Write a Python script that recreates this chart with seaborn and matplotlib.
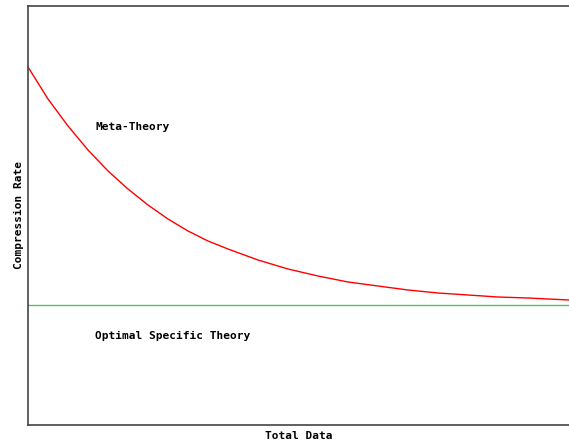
import numpy as np
import pandas as pd
import seaborn as sns
import matplotlib.pyplot as plt

# Values (arbitrary units)
total_data = [0, 20, 40, 60, 80, 100, 120, 140, 160, 180, 200, 230, 260,
              290, 320, 350, 380, 410, 440, 470, 500, 541]
meta_theory = [358, 326, 299, 275, 254, 236, 220, 206, 194, 184, 176, 165,
               156, 149, 143, 139, 135, 132, 130, 128, 127, 125]
optimal_rate = 120.5

df = pd.DataFrame({"Total Data": total_data, "Compression Rate": meta_theory})

sns.set_style("white")
plt.rcParams["font.family"] = ["DejaVu Sans Mono"]

fig = plt.figure(figsize=(5.69, 4.43), dpi=100)
ax = fig.add_axes([28 / 569, 18 / 443, 541 / 569, 419.5 / 443])

sns.lineplot(data=df, x="Total Data", y="Compression Rate", color="red",
             linewidth=1, ax=ax)
ax.axhline(optimal_rate, color="#55c455", linewidth=1)

ax.set_xlim(0, 541)
ax.set_ylim(0, 419.5)
ax.set_xticks([])
ax.set_yticks([])

for side in ["top", "left", "bottom"]:
    ax.spines[side].set_color("#444444")
    ax.spines[side].set_linewidth(1.2)
ax.spines["right"].set_visible(False)

ax.set_xlabel("Total Data", fontsize=8, fontweight="bold", labelpad=4,
              color="black")
ax.set_ylabel("Compression Rate", fontsize=8, fontweight="bold", labelpad=3,
              color="black")

ax.text(0.124, 0.71, "Meta-Theory", transform=ax.transAxes,
        fontsize=8, fontweight="bold", va="center", color="black")
ax.text(0.124, 0.212, "Optimal Specific Theory", transform=ax.transAxes,
        fontsize=8, fontweight="bold", va="center", color="black")

fig.savefig("out.png", dpi=100)
